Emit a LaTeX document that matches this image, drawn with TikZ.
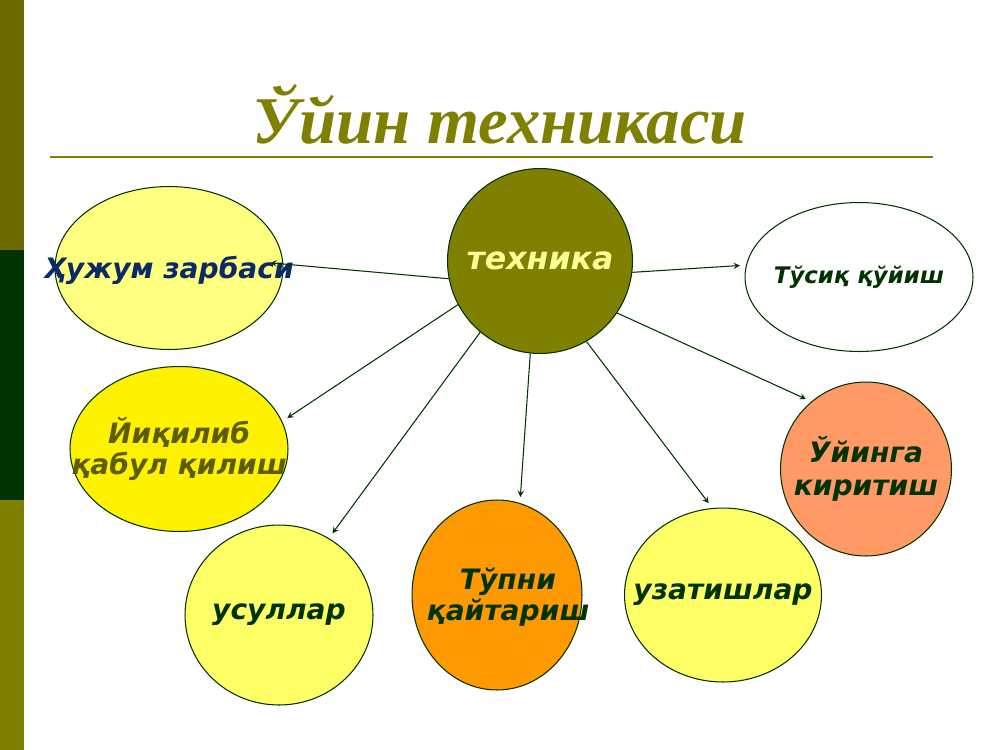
\documentclass[tikz,border=0pt]{standalone}
\usepackage{fontspec}
\setmainfont{Liberation Serif}
\setsansfont{DejaVu Sans}
\usetikzlibrary{shapes.geometric}
\definecolor{olivetop}{HTML}{6B6B00}
\definecolor{olivemid}{HTML}{808000}
\definecolor{darkgr}{HTML}{003300}
\definecolor{navytext}{HTML}{0A2A66}
\definecolor{olivetext}{HTML}{5C5C00}
\definecolor{paleyel}{HTML}{FFFF80}
\definecolor{lightyel}{HTML}{FFFF66}
\definecolor{orangefill}{HTML}{FF9900}
\definecolor{salmonfill}{HTML}{FF9966}
\definecolor{techtext}{HTML}{FFFF99}

\begin{document}
\begin{tikzpicture}[x=0.02cm, y=-0.02cm,
    blob/.style={ellipse, draw=darkgr, line width=0.6pt, inner sep=0pt},
    lbl/.style={font=\sffamily\bfseries\itshape\fontsize{16}{18}\selectfont, text=darkgr, align=center},
    arr/.style={->, >=stealth, draw=darkgr, line width=0.6pt, shorten >=0.12cm}]
    \useasboundingbox (0,0) rectangle (1000,750);
    % side bar
    \fill[olivetop] (0,0) rectangle (24,250);
    \fill[darkgr] (0,250) rectangle (24,500);
    \fill[olivemid] (0,500) rectangle (24,750);
    % title
    \node[text=olivemid, font=\rmfamily\bfseries\itshape\fontsize{38}{44}\selectfont] (title) at (500,114) {Ўйин техникаси};
    \draw[olivemid, line width=1.2pt] (50,157) -- (933,157);
    % centre
    \node[circle, fill=olivemid, draw=darkgr, line width=0.6pt, minimum size=3.7cm, inner sep=0pt,
          font=\sffamily\bfseries\itshape\fontsize{18}{20}\selectfont, text=techtext] (tech) at (540,261) {техника};
    % around
    \node[blob, fill=paleyel, minimum width=4.56cm, minimum height=3.26cm,
          label={[lbl, text=navytext, yshift=-0.05cm]center:Ҳужум зарбаси}] (hujum) at (169,268) {};
    \node[blob, fill=white, minimum width=4.56cm, minimum height=2.98cm,
          label={[lbl, font=\sffamily\bfseries\itshape\fontsize{13}{15}\selectfont]center:Тўсиқ қўйиш}] (tusiq) at (859,277) {};
    \node[blob, fill=yellow, minimum width=4.36cm, minimum height=3.3cm,
          label={[lbl, text=olivetext, font=\sffamily\bfseries\itshape\fontsize{16}{18}\selectfont]center:Йиқилиб\\қабул қилиш}] (yiqilib) at (179,449) {};
    \node[blob, fill=lightyel, minimum width=3.76cm, minimum height=3.6cm,
          label={[lbl]center:усуллар}] (usul) at (279,615) {};
    \node[blob, fill=orangefill, minimum width=3.4cm, minimum height=3.8cm,
          label={[lbl, xshift=0.22cm, yshift=-0.04cm]center:Тўпни\\қайтариш}] (tupni) at (497,595) {};
    \node[blob, fill=lightyel, minimum width=3.94cm, minimum height=3.48cm,
          label={[lbl]center:узатишлар}] (uzatish) at (723,595) {};
    \node[blob, fill=salmonfill, minimum width=3.42cm, minimum height=3.48cm,
          label={[lbl, font=\sffamily\bfseries\itshape\fontsize{16}{19}\selectfont]center:Ўйинга\\киритиш}] (uyinga) at (866,469) {};
    % arrows
    \draw[arr, shorten >=-0.26cm] (tech.191) -- (hujum.2);
    \draw[arr] (tech.353) -- (tusiq.174);
    \draw[arr] (tech.208) -- (yiqilib.15);
    \draw[arr] (tech.230) -- (usul.57);
    \draw[arr] (tech.264) -- (tupni.76);
    \draw[arr] (tech.300) -- (uzatish.97);
    \draw[arr] (tech.326) -- (uyinga.129);
\end{tikzpicture}
\end{document}
